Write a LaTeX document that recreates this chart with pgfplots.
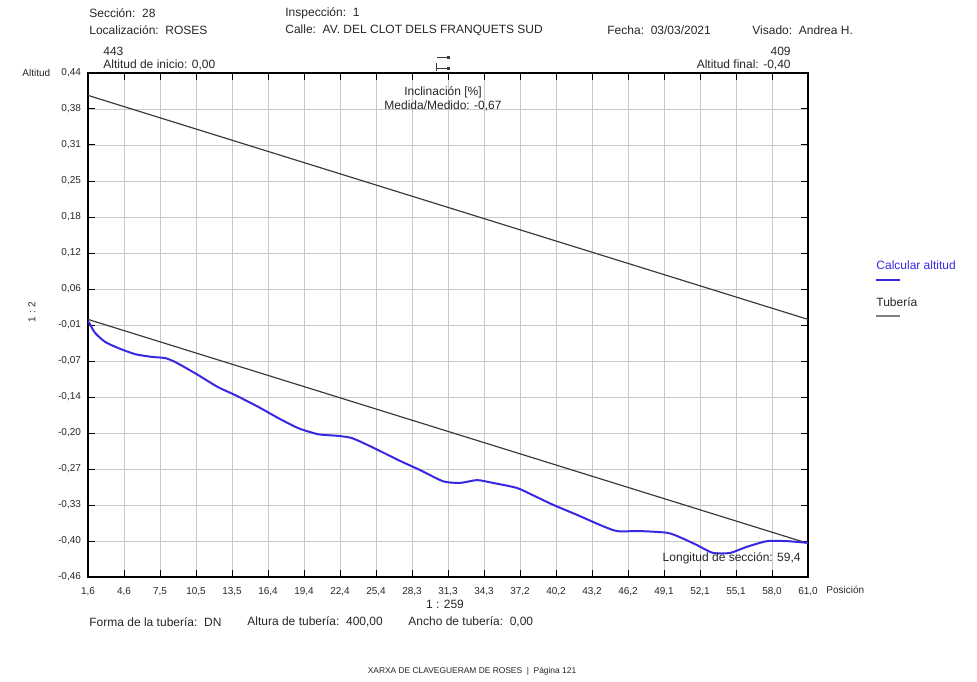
\documentclass[border=0pt]{standalone}
\usepackage{pgfplots}
\pgfplotsset{compat=1.18}
\usepackage{fontspec}
\setmainfont{Liberation Sans}
\definecolor{altblue}{RGB}{55,40,225}
\definecolor{pipegray}{RGB}{60,60,60}
\definecolor{gridgray}{RGB}{200,200,200}
\newcommand{\fs}[1]{\fontsize{#1}{#1}\selectfont}

\begin{document}
\begin{tikzpicture}
\useasboundingbox (0,0) rectangle (488.5pt,340.5pt);
\begin{axis}[
  at={(44pt,52pt)}, anchor=south west,
  scale only axis, width=360pt, height=252pt,
  xmin=1.6, xmax=61.0, ymin=-0.46, ymax=0.44,
  xtick={1.6,4.57,7.54,10.51,13.48,16.45,19.42,22.39,25.36,28.33,31.30,34.27,37.24,40.21,43.18,46.15,49.12,52.09,55.06,58.03,61.0},
  xticklabels={{1,6},{4,6},{7,5},{10,5},{13,5},{16,4},{19,4},{22,4},{25,4},{28,3},{31,3},{34,3},{37,2},{40,2},{43,2},{46,2},{49,1},{52,1},{55,1},{58,0},{61,0}},
  ytick={-0.46,-0.395714,-0.331429,-0.267143,-0.202857,-0.138571,-0.074286,-0.01,0.054286,0.118571,0.182857,0.247143,0.311429,0.375714,0.44},
  yticklabels={{-0,46},{-0,40},{-0,33},{-0,27},{-0,20},{-0,14},{-0,07},{-0,01},{0,06},{0,12},{0,18},{0,25},{0,31},{0,38},{0,44}},
  tick align=inside, major tick length=3.5pt,
  grid=major, major grid style={gridgray, line width=0.4pt},
  axis line style={line width=0.75pt},
  tick style={black, line width=0.5pt},
  ticklabel style={font=\fs{5}, text=black!85},
  x tick label style={yshift=-1.5pt, text height=3.6pt, text depth=1pt},
]
\addplot[pipegray, line width=0.6pt] coordinates {(1.6,0.40) (61.0,0.00)};
\addplot[pipegray, line width=0.6pt] coordinates {(1.6,0.00) (61.0,-0.40)};
\addplot[altblue, line width=1pt, smooth, tension=0.4] coordinates {
  (1.6,-0.003) (1.75,-0.008) (2.18,-0.024) (3.00,-0.040) (4.08,-0.051)
  (5.48,-0.062) (6.88,-0.067) (7.95,-0.069) (8.78,-0.076) (10.43,-0.096)
  (12.33,-0.121) (13.73,-0.135) (15.63,-0.156) (17.28,-0.176) (18.93,-0.194)
  (20.58,-0.205) (22.23,-0.208) (23.38,-0.212) (25.03,-0.228) (27.18,-0.251)
  (28.99,-0.269) (30.89,-0.289) (32.29,-0.292) (33.69,-0.287) (35.01,-0.292)
  (36.99,-0.301) (38.31,-0.314) (39.96,-0.331) (41.94,-0.349) (43.84,-0.367)
  (45.24,-0.378) (47.14,-0.378) (49.37,-0.381) (50.44,-0.389) (51.84,-0.403)
  (53.16,-0.417) (54.57,-0.417) (55.97,-0.406) (57.62,-0.396) (59.27,-0.396)
  (61.0,-0.399)};
\end{axis}
% texts around the chart, placed in pixel units of the page
\begin{scope}[x=0.5pt, y=-0.5pt, shift={(0pt,340.5pt)},
  every node/.style={inner sep=0pt, font=\fs{6}, text=black!85}]
\node[anchor=west] at (89,13) {Sección:\ \ 28};
\node[anchor=west] at (89,30) {Localización:\ \ ROSES};
\node[anchor=west] at (285,13) {Inspección:\ \ 1};
\node[anchor=west] at (285,30) {Calle:\ \ AV. DEL CLOT DELS FRANQUETS SUD};
\node[anchor=west] at (607,30) {Fecha:\ \ 03/03/2021};
\node[anchor=west] at (752,30) {Visado:\ \ Andrea H.};
\node[anchor=west] at (103,51) {443};
\node[anchor=west] at (103,65) {Altitud de inicio: 0,00};
\node[anchor=east] at (791,51) {409};
\node[anchor=east] at (791,65) {Altitud final: -0,40};
\draw[pipegray, line width=0.5pt] (437,58) -- (448,58);
\fill[pipegray] (447,56.5) rectangle (450,59.5);
\draw[pipegray, line width=0.5pt] (436,63) -- (436,71) (436,69) -- (448,69);
\fill[pipegray] (447,67.5) rectangle (450,70.5);
\node at (443,92) {Inclinación [\%]};
\node at (443,106) {Medida/Medido: -0,67};
\node[anchor=west, font=\fs{5}] at (22,73) {Altitud};
\node[rotate=90, font=\fs{5}] at (32,312) {1 : 2};
\node[anchor=west, font=\fs{5}] at (826,590) {Posición};
\node at (445,604) {1 : 259};
\node[anchor=east] at (801,558) {Longitud de sección: 59,4};
\node[anchor=west] at (89,622) {Forma de la tubería:\ \ DN};
\node[anchor=west] at (247,622) {Altura de tubería:\ \ 400,00};
\node[anchor=west] at (408,622) {Ancho de tubería:\ \ 0,00};
\node[font=\fs{4.2}] at (472,671) {XARXA DE CLAVEGUERAM DE ROSES\ \ |\ \ Página 121};
\node[anchor=west, text=altblue] at (876,265) {Calcular altitud};
\draw[altblue, line width=1pt] (876,280) -- (900,280);
\node[anchor=west] at (876,302) {Tubería};
\draw[gray, line width=1pt] (876,316) -- (900,316);
\end{scope}
\end{tikzpicture}
\end{document}
